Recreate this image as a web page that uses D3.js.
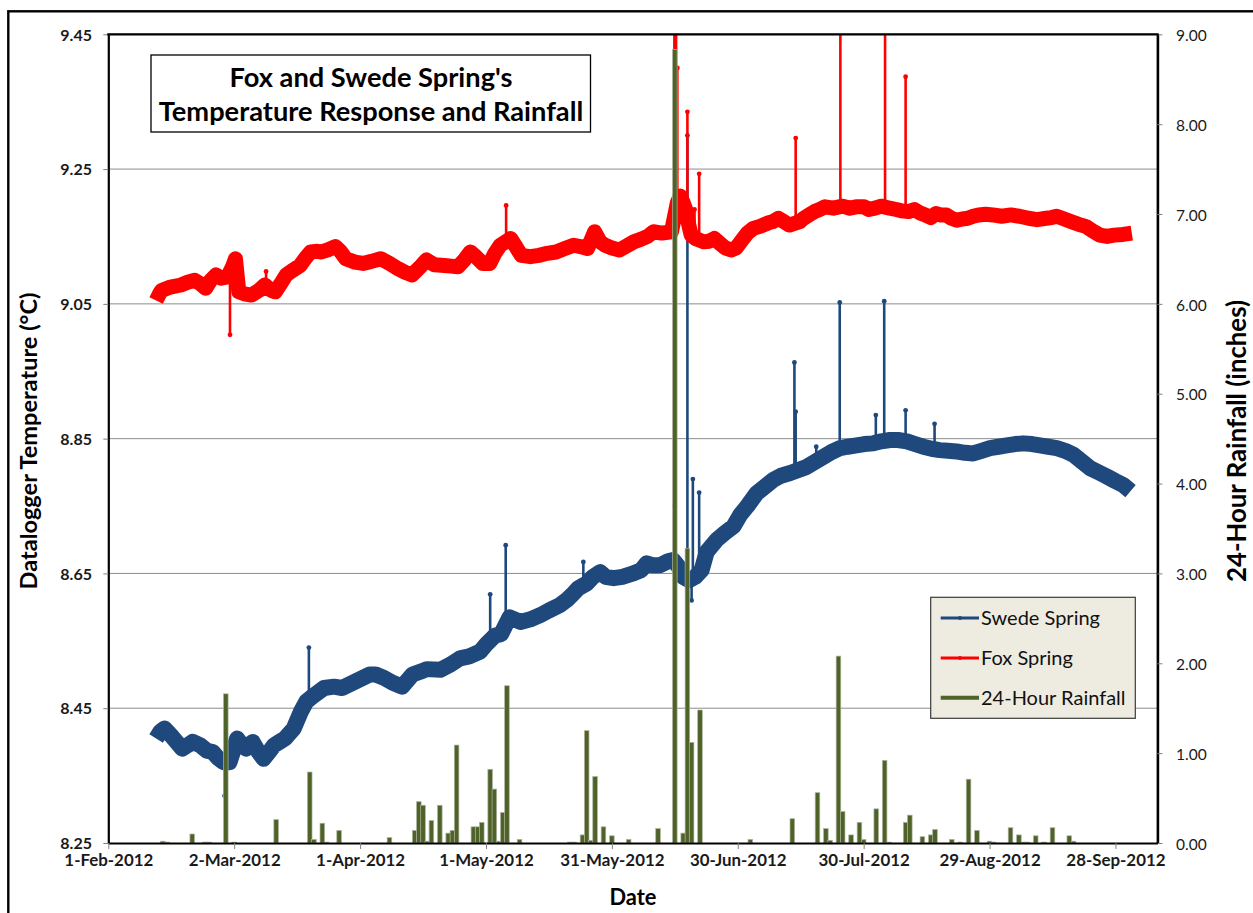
<!DOCTYPE html>
<html><head><meta charset="utf-8">
<script src="https://cdn.jsdelivr.net/npm/d3@7"></script>
<style>
body{margin:0;background:#fff}
svg{display:block}
text{font-family:Lato,"Open Sans",sans-serif}
</style>
</head><body>
<svg id="c" width="1253" height="913"></svg>
<script>
// ---------------- DATA ----------------
const seriesStart = "2012-02-01";          // day 0 of the day offsets below
const axisStart = "2012-02-01";
const axisEnd = "2012-10-08";
const xTickDates = ["2012-02-01","2012-03-02","2012-04-01","2012-05-01","2012-05-31",
                    "2012-06-30","2012-07-30","2012-08-29","2012-09-28"];
const tempTicks = [8.25, 8.45, 8.65, 8.85, 9.05, 9.25, 9.45];
const rainTicks = [0, 1, 2, 3, 4, 5, 6, 7, 8, 9];
const seriesNames = ["Swede Spring", "Fox Spring", "24-Hour Rainfall"];

// [days after start, °C]
const swedeTemps = [[11.4,8.405],[12.4,8.415],[13.4,8.42],[14.9,8.41],[17.6,8.39],[18.9,8.395],[20.1,8.40],
[21.9,8.395],[23.5,8.387],[24.9,8.385],[26.0,8.377],[27.4,8.37],[28.9,8.37],[30.7,8.405],[31.9,8.395],
[32.9,8.39],[34.4,8.40],[35.8,8.385],[37.0,8.375],[38.3,8.385],[39.5,8.395],[40.8,8.40],[42.1,8.405],
[44.2,8.42],[45.9,8.445],[47.2,8.46],[48.8,8.468],[51.4,8.48],[53.8,8.482],[55.7,8.48],[59.0,8.49],
[62.3,8.50],[63.7,8.50],[65.7,8.495],[67.7,8.488],[70.0,8.482],[72.5,8.50],[74.3,8.504],[75.9,8.508],
[79.1,8.507],[81.6,8.515],[83.8,8.524],[86.0,8.527],[88.6,8.534],[90.1,8.545],[92.2,8.558],[93.6,8.56],
[95.6,8.585],[98.2,8.578],[100.6,8.582],[102.9,8.588],[105.0,8.595],[107.6,8.603],[109.5,8.612],
[110.8,8.62],[112.0,8.628],[114.0,8.635],[115.5,8.645],[117.2,8.652],[118.5,8.645],[120.4,8.643],
[122.5,8.645],[125.1,8.65],[127.0,8.655],[128.3,8.665],[129.9,8.662],[131.4,8.662],[133.4,8.668],
[134.6,8.67],[135.9,8.66],[136.9,8.645],[138.4,8.64],[139.9,8.645],[141.4,8.655],[142.6,8.682],
[145.0,8.70],[146.9,8.71],[149.0,8.72],[150.6,8.737],[152.3,8.75],[154.5,8.769],[156.3,8.778],
[158.5,8.789],[160.3,8.795],[162.5,8.799],[164.3,8.803],[166.4,8.808],[168.3,8.815],[170.4,8.823],
[172.3,8.83],[174.4,8.836],[176.2,8.838],[178.3,8.84],[180.2,8.842],[182.3,8.843],[184.2,8.846],
[186.3,8.848],[188.2,8.848],[190.3,8.846],[192.2,8.842],[194.2,8.838],[196.2,8.835],[198.1,8.833],
[200.1,8.832],[202.1,8.831],[204.1,8.829],[206.1,8.828],[208.1,8.832],[210.1,8.836],[212.1,8.838],
[214.1,8.84],[216.1,8.842],[218.1,8.843],[220.1,8.842],[222.0,8.84],[224.0,8.838],[226.0,8.836],
[228.0,8.832],[230.0,8.826],[232.0,8.816],[234.0,8.806],[236.0,8.80],[237.9,8.794],[240.0,8.787],
[241.9,8.781],[243.6,8.772]];
// short-lived excursions: [days after start, from °C, to °C]
const swedeSpikes = [[27.7,8.37,8.32],[47.8,8.46,8.54],[91.0,8.55,8.619],[94.7,8.56,8.692],
[113.2,8.63,8.667],[135.0,8.67,8.75],[138.0,8.645,9.30],[139.0,8.64,8.61],[139.3,8.64,8.79],
[140.8,8.65,8.77],[163.5,8.80,8.963],[163.8,8.80,8.89],[168.7,8.815,8.838],[174.3,8.836,9.052],
[182.9,8.843,8.885],[184.9,8.846,9.054],[190.0,8.846,8.892],[196.9,8.835,8.872]];

const foxTemps = [[11.4,9.055],[12.2,9.065],[12.7,9.07],[14.8,9.075],[17.3,9.078],[18.9,9.082],[20.6,9.085],
[21.9,9.08],[23.2,9.073],[24.4,9.085],[25.7,9.093],[26.9,9.088],[28.4,9.09],[29.6,9.105],[30.3,9.117],
[31.1,9.068],[32.4,9.065],[34.1,9.063],[35.9,9.07],[37.3,9.078],[38.8,9.07],[39.8,9.068],[41.1,9.08],
[42.4,9.093],[44.0,9.10],[45.7,9.107],[47.0,9.118],[48.2,9.127],[49.8,9.128],[50.8,9.127],[52.3,9.13],
[54.1,9.135],[55.3,9.128],[56.6,9.117],[58.8,9.112],[60.7,9.11],[62.7,9.113],[64.9,9.117],[67.0,9.11],
[69.1,9.102],[70.7,9.097],[72.4,9.093],[74.2,9.104],[75.8,9.115],[77.7,9.108],[80.1,9.107],[81.7,9.106],
[83.3,9.105],[84.8,9.115],[86.3,9.127],[87.6,9.12],[89.2,9.11],[90.9,9.11],[92.1,9.125],[93.4,9.137],
[95.9,9.147],[97.1,9.135],[98.4,9.122],[100.6,9.12],[102.6,9.122],[104.6,9.125],[106.7,9.127],
[108.8,9.132],[110.9,9.137],[112.5,9.135],[114.2,9.132],[115.9,9.157],[117.2,9.142],[118.4,9.137],
[120.0,9.133],[121.8,9.13],[123.5,9.136],[125.2,9.142],[127.0,9.146],[128.5,9.15],[129.9,9.157],
[131.9,9.155],[134.2,9.157],[135.6,9.20],[136.3,9.21],[137.0,9.20],[137.6,9.19],[138.4,9.165],
[138.9,9.152],[139.9,9.147],[141.9,9.142],[143.2,9.143],[144.4,9.147],[145.7,9.14],[147.0,9.133],
[148.4,9.13],[149.6,9.133],[151.3,9.147],[152.3,9.155],[153.7,9.162],[155.3,9.165],[157.2,9.17],
[158.3,9.172],[159.7,9.177],[161.0,9.172],[162.3,9.167],[164.8,9.172],[165.7,9.177],[167.0,9.182],
[168.3,9.187],[169.5,9.19],[170.8,9.194],[172.8,9.192],[175.0,9.195],[176.7,9.192],[178.2,9.194],
[180.1,9.194],[181.2,9.19],[182.7,9.192],[184.2,9.195],[186.2,9.192],[187.8,9.19],[189.0,9.188],
[190.7,9.187],[192.1,9.19],[193.4,9.185],[194.7,9.182],[196.0,9.178],[197.2,9.184],[198.4,9.182],
[199.7,9.182],[200.9,9.177],[202.2,9.174],[203.5,9.176],[204.8,9.177],[206.1,9.18],[207.4,9.182],
[209.1,9.183],[210.8,9.182],[212.9,9.18],[215.1,9.182],[217.1,9.18],[219.3,9.177],[221.3,9.175],
[223.5,9.177],[224.8,9.178],[226.0,9.18],[227.8,9.176],[229.5,9.172],[231.2,9.168],[232.9,9.165],
[234.6,9.158],[236.3,9.152],[238.0,9.15],[239.7,9.152],[241.8,9.153],[243.9,9.155]];
const foxSpikes = [[29.0,9.09,9.004],[37.6,9.078,9.098],[94.8,9.14,9.196],[134.9,9.157,9.60],
[135.3,9.20,9.60],[135.6,9.20,9.40],[138.0,9.19,9.335],[139.7,9.15,9.19],[140.8,9.145,9.243],
[163.8,9.17,9.296],[174.45,9.192,9.60],[185.1,9.195,9.60],[190.0,9.187,9.387]];

// [days after start, inches]
const rainfall = [[13,0.02],[14,0.01],[20,0.10],[23,0.01],[24,0.01],[28,1.66],[30,0.01],[40,0.26],
[48,0.79],[49,0.04],[51,0.22],[52,0.01],[55,0.14],[67,0.06],[73,0.14],[74,0.46],[75,0.42],[76,0.02],
[77,0.25],[79,0.42],[81,0.11],[82,0.14],[83,1.09],[87,0.18],[88,0.18],[89,0.23],[91,0.82],[92,0.60],
[93,0.02],[94,0.34],[95,1.75],[98,0.04],[110,0.01],[111,0.01],[113,0.09],[114,1.25],[115,0.03],
[116,0.74],[118,0.18],[120,0.08],[124,0.04],[131,0.16],[135,8.83],[137,0.11],[138,3.28],[139,1.12],
[141,1.48],[153,0.04],[163,0.27],[169,0.56],[171,0.16],[172,0.03],[174,2.08],[175,0.35],[177,0.09],
[179,0.23],[180,0.04],[183,0.38],[185,0.92],[186,0.01],[190,0.23],[191,0.31],[194,0.07],[196,0.09],
[197,0.15],[201,0.04],[203,0.01],[205,0.71],[207,0.14],[210,0.02],[211,0.01],[215,0.17],[217,0.09],
[218,0.01],[219,0.01],[221,0.08],[223,0.01],[225,0.17],[229,0.08],[230,0.02]];

const titleLines = ["Fox and Swede Spring's", "Temperature Response and Rainfall"];
const yTitle = "Datalogger Temperature (°C)";
const y2Title = "24-Hour Rainfall (inches)";
const xTitle = "Date";

// ---------------- LAYOUT ----------------
const M = {left:108.3, right:1157.4, top:34.3, bottom:843};
const C = {swede:"#1F497D", fox:"#FF0000", rain:"#4F6228", grid:"#8c8c8c", tick:"#7f7f7f", text:"#1a1a1a"};
const svg = d3.select("#c");
const parse = d3.utcParse("%Y-%m-%d");
const t0 = parse(seriesStart).getTime();
const dayDate = d => new Date(t0 + d * 864e5);

const x = d3.scaleUtc().domain([parse(axisStart), parse(axisEnd)]).range([M.left, M.right]);
const yT = d3.scaleLinear().domain([tempTicks[0], tempTicks[tempTicks.length-1]]).range([M.bottom, M.top]);
const yR = d3.scaleLinear().domain([rainTicks[0], rainTicks[rainTicks.length-1]]).range([M.bottom, M.top]);

function sizeFor(str, weight, target) {
  const t = svg.append("text").attr("font-weight", weight).style("font-size", "20px").text(str);
  const w = t.node().getComputedTextLength();
  t.remove();
  return 20 * target / w;
}

// outer chart frame (extends past the picture at right and bottom)
svg.append("rect").attr("x", 8.3).attr("y", 11.3).attr("width", 1400).attr("height", 1100)
  .attr("fill", "#fff").attr("stroke", "#000").attr("stroke-width", 2.4);

// clip
svg.append("clipPath").attr("id", "plotclip").append("rect")
  .attr("x", M.left).attr("y", M.top).attr("width", M.right - M.left).attr("height", M.bottom - M.top);

// gridlines
svg.append("g").selectAll("line").data(tempTicks.slice(1)).join("line")
  .attr("x1", M.left).attr("x2", M.right).attr("y1", d => yT(d)).attr("y2", d => yT(d))
  .attr("stroke", C.grid).attr("stroke-width", 1);

const plot = svg.append("g").attr("clip-path", "url(#plotclip)");

function drawSeries(points, spikes, color, width) {
  const line = d3.line().x(d => x(dayDate(d[0]))).y(d => yT(d[1])).curve(d3.curveLinear);
  plot.append("path").datum(points).attr("d", line).attr("fill", "none")
    .attr("stroke", color).attr("stroke-width", width).attr("stroke-linejoin", "round").attr("stroke-linecap", "butt");
  const g = plot.append("g");
  g.selectAll("line").data(spikes).join("line")
    .attr("x1", d => x(dayDate(d[0]))).attr("x2", d => x(dayDate(d[0])))
    .attr("y1", d => yT(d[1])).attr("y2", d => yT(d[2]))
    .attr("stroke", color).attr("stroke-width", 2.6);
  g.selectAll("circle").data(spikes).join("circle")
    .attr("cx", d => x(dayDate(d[0]))).attr("cy", d => yT(d[2])).attr("r", 2.4).attr("fill", color);
}
drawSeries(swedeTemps, swedeSpikes, C.swede, 16);
drawSeries(foxTemps, foxSpikes, C.fox, 15);

// rainfall bars
const bw = 4.6;
plot.append("g").selectAll("rect").data(rainfall).join("rect")
  .attr("x", d => x(dayDate(d[0])) - bw / 2).attr("width", bw)
  .attr("y", d => yR(d[1])).attr("height", d => yR(0) - yR(d[1]))
  .attr("fill", C.rain).attr("stroke", "#aeb59f").attr("stroke-width", 0.7);

// axes
const leftSize = sizeFor("9.45", "bold", 31.7);
const rightSize = sizeFor("9.00", "normal", 30.7);
const bottomSize = sizeFor("1-Feb-2012", "bold", 89);

const gl = svg.append("g").attr("transform", `translate(${M.left},0)`)
  .call(d3.axisLeft(yT).tickValues(tempTicks).tickFormat(d3.format(".2f")).tickSize(5).tickSizeOuter(0).tickPadding(11.3));
gl.select(".domain").attr("stroke", "#000").attr("stroke-width", 2.2);
gl.selectAll(".tick line").attr("stroke", C.tick);
gl.selectAll(".tick text").attr("font-weight", "bold").style("font-size", leftSize + "px")
  .attr("fill", C.text).attr("dy", "0.36em");

const gr = svg.append("g").attr("transform", `translate(${M.right},0)`)
  .call(d3.axisRight(yR).tickValues(rainTicks).tickFormat(d3.format(".2f")).tickSize(5).tickSizeOuter(0).tickPadding(13.6));
gr.select(".domain").attr("stroke", "#000").attr("stroke-width", 2.6);
gr.selectAll(".tick line").attr("stroke", C.tick);
gr.selectAll(".tick text").style("font-size", rightSize + "px").attr("fill", C.text).attr("dy", "0.4em");

const gb = svg.append("g").attr("transform", `translate(0,${M.bottom})`)
  .call(d3.axisBottom(x).tickValues(xTickDates.map(parse)).tickFormat(d3.utcFormat("%-d-%b-%Y")).tickSize(6).tickSizeOuter(0));
gb.select(".domain").attr("stroke", "#000").attr("stroke-width", 2.2);
gb.selectAll(".tick line").attr("stroke", C.tick);
gb.selectAll(".tick text").attr("font-weight", "bold").style("font-size", bottomSize + "px")
  .attr("fill", C.text).attr("y", 22.5).attr("dy", 0);

// top border of plot area
svg.append("line").attr("x1", M.left - 1).attr("x2", M.right + 1.3).attr("y1", M.top).attr("y2", M.top)
  .attr("stroke", "#000").attr("stroke-width", 2.2);

// axis titles
const yt = svg.append("text").attr("transform", "translate(37,441) rotate(-90)")
  .attr("text-anchor", "middle").attr("font-weight", "bold").attr("fill", "#000").text(yTitle);
yt.style("font-size", sizeFor(yTitle, "bold", 297) + "px");
const yt2 = svg.append("text").attr("transform", "translate(1246,441) rotate(-90)")
  .attr("text-anchor", "middle").attr("font-weight", "bold").attr("fill", "#000").text(y2Title);
yt2.style("font-size", sizeFor(y2Title, "bold", 282) + "px");
svg.append("text").attr("x", 633).attr("y", 905).attr("text-anchor", "middle").attr("font-weight", "bold")
  .attr("fill", "#000").style("font-size", sizeFor(xTitle, "bold", 47) + "px").text(xTitle);

// title box
svg.append("rect").attr("x", 151).attr("y", 55).attr("width", 439.5).attr("height", 77)
  .attr("fill", "#fff").attr("stroke", "#000").attr("stroke-width", 1.3);
const titleSize = sizeFor(titleLines[1], "bold", 424.5);
svg.append("g").selectAll("text").data(titleLines).join("text")
  .attr("x", 371).attr("y", (d, i) => [86.7, 121][i]).attr("text-anchor", "middle")
  .attr("font-weight", "bold").attr("fill", "#000").style("font-size", titleSize + "px").text(d => d);

// legend
const lg = svg.append("g");
lg.append("rect").attr("x", 930.7).attr("y", 597.3).attr("width", 204.6).attr("height", 121)
  .attr("fill", "#EEECE1").attr("stroke", "#3a3a3a").attr("stroke-width", 1.2);
const legendSize = sizeFor(seriesNames[0], "normal", 119);
const legendColors = [C.swede, C.fox, C.rain];
const legendWidths = [3.2, 3.2, 4];
const rowY = [618, 658, 697.7];
seriesNames.forEach((n, i) => {
  lg.append("line").attr("x1", 940.7).attr("x2", 979).attr("y1", rowY[i]).attr("y2", rowY[i])
    .attr("stroke", legendColors[i]).attr("stroke-width", legendWidths[i]);
  if (i < 2) lg.append("circle").attr("cx", 960).attr("cy", rowY[i]).attr("r", 2).attr("fill", legendColors[i]);
  lg.append("text").attr("x", 981).attr("y", rowY[i] + 7).attr("fill", "#111")
    .style("font-size", legendSize + "px").text(n);
});
</script>
</body></html>
